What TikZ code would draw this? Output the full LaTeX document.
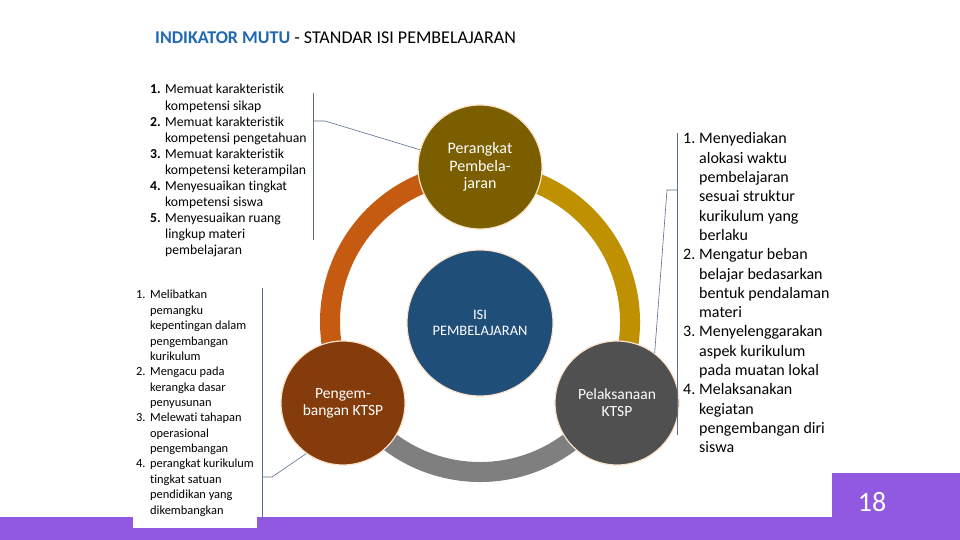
\documentclass[tikz,border=0pt]{standalone}
\usepackage{fontspec}
\setmainfont{Carlito}[Ligatures={NoCommon}]
\usetikzlibrary{positioning}
\definecolor{judul}{RGB}{31,105,178}
\definecolor{ungu}{RGB}{145,88,226}
\definecolor{perangkatc}{RGB}{122,94,0}
\definecolor{isic}{RGB}{31,78,121}
\definecolor{pengemc}{RGB}{132,60,12}
\definecolor{pelakc}{RGB}{80,80,80}
\definecolor{oranye}{RGB}{197,90,17}
\definecolor{emas}{RGB}{191,144,0}
\definecolor{abu}{RGB}{127,127,127}
\definecolor{pinggir}{RGB}{250,225,200}
\definecolor{garisc}{RGB}{90,110,140}
\tikzset{
  bulat/.style={circle, minimum size=124pt, inner sep=0pt, draw=pinggir,
    line width=1.2pt, text=white, align=center},
  cincin/.style={line width=20pt},
  garis/.style={draw=garisc, line width=0.6pt},
  daftar/.style={anchor=base west, inner sep=0pt},
}
\begin{document}
\begin{tikzpicture}[x=1pt,y=1pt]
    \useasboundingbox (0,0) rectangle (960,540);
    % latar ungu
    \fill[ungu] (0,0) rectangle (960,23);
    \fill[ungu] (832,0) rectangle (960,67);
    \fill[white] (133,12) rectangle (257,255);
    % judul
    \node[anchor=base west, inner sep=0pt, font=\fontsize{18}{21}\selectfont] (judul) at (155,496)
        {\textcolor{judul}{\textbf{INDIKATOR MUTU}} - STANDAR ISI PEMBELAJARAN};
    % cincin
    \coordinate (pusat) at (480,218);
    \draw[cincin, oranye] ([shift={(pusat)}]90:150) arc[start angle=90, end angle=210, radius=150];
    \draw[cincin, emas] ([shift={(pusat)}]-30:150) arc[start angle=-30, end angle=90, radius=150];
    \draw[cincin, abu] ([shift={(pusat)}]210:150) arc[start angle=210, end angle=330, radius=150];
    % lingkaran
    \node[bulat, fill=perangkatc, font=\fontsize{16}{17.5}\selectfont] (perangkat) at (480,373)
        {Perangkat\\Pembela-\\jaran};
    \node[bulat, fill=isic, minimum size=146pt, font=\fontsize{14.5}{16}\selectfont] (isi) at (480,217)
        {ISI\\PEMBELAJARAN};
    \node[bulat, fill=pengemc, font=\fontsize{15.5}{17}\selectfont] (pengem) at (343,137)
        {Pengem-\\bangan KTSP};
    \node[bulat, fill=pelakc, font=\fontsize{15.5}{17}\selectfont] (pelak) at (617,137)
        {Pelaksanaan\\KTSP};
    % daftar kiri atas
    \node[daftar, font=\fontsize{13.7}{16.1}\selectfont] (daftarA) at (150,446)
        {\begin{tabular}[t]{@{}p{15pt}@{}l@{}}
        \textbf{1.} & Memuat karakteristik\\
         & kompetensi sikap\\
        \textbf{2.} & Memuat karakteristik\\
         & kompetensi pengetahuan\\
        \textbf{3.} & Memuat karakteristik\\
         & kompetensi keterampilan\\
        \textbf{4.} & Menyesuaikan tingkat\\
         & kompetensi siswa\\
        \textbf{5.} & Menyesuaikan ruang\\
         & lingkup materi\\
         & pembelajaran
        \end{tabular}};
    % daftar kiri bawah
    \node[daftar, font=\fontsize{12.4}{15.36}\selectfont] (daftarB) at (136,241)
        {\begin{tabular}[t]{@{}p{14pt}@{}l@{}}
        1. & Melibatkan\\
         & pemangku\\
         & kepentingan dalam\\
         & pengembangan\\
         & kurikulum\\
        2. & Mengacu pada\\
         & kerangka dasar\\
         & penyusunan\\
        3. & Melewati tahapan\\
         & operasional\\
         & pengembangan\\
        4. & perangkat kurikulum\\
         & tingkat satuan\\
         & pendidikan yang\\
         & dikembangkan
        \end{tabular}};
    % daftar kanan
    \node[daftar, font=\fontsize{16}{19.3}\selectfont] (daftarC) at (683,396)
        {\begin{tabular}[t]{@{}p{16pt}@{}l@{}}
        1. & Menyediakan\\
         & alokasi waktu\\
         & pembelajaran\\
         & sesuai struktur\\
         & kurikulum yang\\
         & berlaku\\
        2. & Mengatur beban\\
         & belajar bedasarkan\\
         & bentuk pendalaman\\
         & materi\\
        3. & Menyelenggarakan\\
         & aspek kurikulum\\
         & pada muatan lokal\\
        4. & Melaksanakan\\
         & kegiatan\\
         & pengembangan diri\\
         & siswa
        \end{tabular}};
    % garis penghubung
    \coordinate (aAtas) at (313,447);
    \coordinate (aBawah) at (313,300);
    \coordinate (aCabang) at (313,419);
    \draw[garis] (aAtas) -- (aBawah);
    \draw[garis] (aCabang) -- ++(12,0) -- (perangkat.164);
    \coordinate (bAtas) at (262,252);
    \coordinate (bBawah) at (262,20);
    \coordinate (bCabang) at (262,63);
    \draw[garis] (bAtas) -- (bBawah);
    \draw[garis] (bCabang) -- ++(10,0) -- (pengem.234);
    \coordinate (cAtas) at (677,407);
    \coordinate (cBawah) at (677,105);
    \coordinate (cCabang) at (677,350);
    \draw[garis] (cAtas) -- (cBawah);
    \draw[garis] (cCabang) -- ++(-10,0) -- (pelak.53);
    % nomor halaman
    \node[text=white, font=\fontsize{28}{30}\selectfont] (halaman) at (872,38) {18};
\end{tikzpicture}
\end{document}
